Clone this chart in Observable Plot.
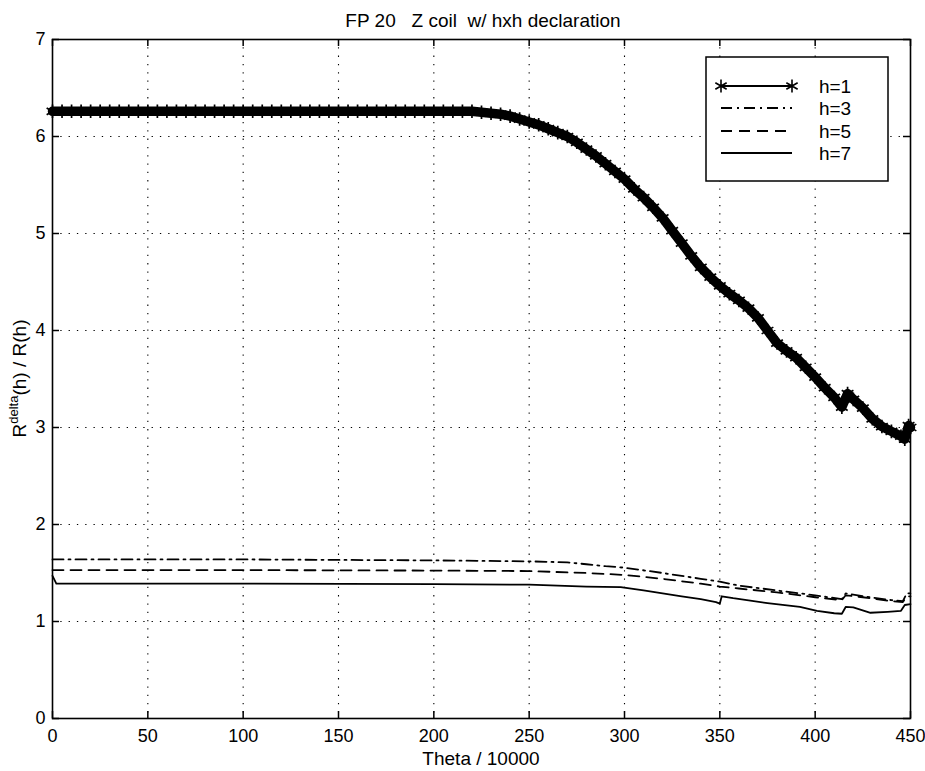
<!DOCTYPE html>
<html>
<head>
<meta charset="utf-8">
<script src="https://cdn.jsdelivr.net/npm/d3@7"></script>
<script src="https://cdn.jsdelivr.net/npm/@observablehq/plot@0.6"></script>
<style>
  html, body { margin: 0; padding: 0; background: #fff; }
  svg text { font-family: "Liberation Sans", Arial, Helvetica, sans-serif; }
</style>
</head>
<body>
<div id="chart"></div>
<script>
// ---- data ----
const titleText = "FP 20   Z coil  w/ hxh declaration";
const xLabel = "Theta / 10000";
const xTicks = [0, 50, 100, 150, 200, 250, 300, 350, 400, 450];
const yTicks = [0, 1, 2, 3, 4, 5, 6, 7];
const seriesNames = ["h=1", "h=3", "h=5", "h=7"];

const h1X = [0,5,10,15,20,25,30,35,40,45,50,55,60,65,70,75,80,85,90,95,100,105,110,115,120,125,130,135,140,145,150,155,160,165,170,175,180,185,190,195,200,205,210,215,220,225,230,235,240,245,250,255,260,265,270,275,280,285,290,295,300,305,310,315,320,325,330,335,340,345,350,355,360,365,370,375,380,385,390,395,400,405,410,414,417,420,425,430,435,440,445,447,449,450];
const h1Y = [6.26,6.26,6.26,6.26,6.26,6.26,6.26,6.26,6.26,6.26,6.26,6.26,6.26,6.26,6.26,6.26,6.26,6.26,6.26,6.26,6.26,6.26,6.26,6.26,6.26,6.26,6.26,6.26,6.26,6.26,6.26,6.26,6.26,6.26,6.26,6.26,6.26,6.26,6.26,6.26,6.26,6.26,6.26,6.26,6.26,6.25,6.24,6.23,6.21,6.18,6.15,6.12,6.08,6.04,6.00,5.94,5.87,5.80,5.72,5.64,5.56,5.46,5.37,5.27,5.16,5.03,4.90,4.77,4.65,4.55,4.46,4.38,4.31,4.23,4.13,4.00,3.87,3.79,3.72,3.62,3.52,3.41,3.31,3.21,3.35,3.29,3.20,3.09,3.01,2.96,2.91,2.88,3.02,3.00];

const h3X = [0,100,200,250,270,280,290,300,320,340,350,360,380,400,414,416,425,440,446,448,450];
const h3Y = [1.64,1.64,1.63,1.62,1.61,1.59,1.57,1.555,1.50,1.44,1.41,1.37,1.32,1.27,1.23,1.29,1.26,1.22,1.21,1.29,1.29];

const h5X = [0,100,200,250,280,300,320,340,350,360,380,400,414,416,425,440,446,448,450];
const h5Y = [1.53,1.53,1.525,1.52,1.50,1.48,1.44,1.39,1.36,1.34,1.30,1.25,1.22,1.27,1.25,1.21,1.20,1.26,1.26];

const h7X = [0,2,100,200,250,280,298,310,320,330,340,348,350,351,357,375,392,401,410,414,416,420,429,438,445,447,450];
const h7Y = [1.47,1.39,1.39,1.385,1.38,1.36,1.355,1.32,1.29,1.26,1.23,1.20,1.185,1.26,1.24,1.19,1.15,1.11,1.085,1.08,1.15,1.145,1.09,1.10,1.11,1.17,1.18];

// ---- build tables ----
const toRows = (xs, ys) => xs.map((x, i) => ({x, y: ys[i]}));
const h1 = toRows(h1X, h1Y);
const h3 = toRows(h3X, h3Y);
const h5 = toRows(h5X, h5Y);
const h7 = toRows(h7X, h7Y);

const W = 925, H = 771;
const mL = 52, mR = 15, mT = 39, mB = 53;
const plotH = H - mT - mB;
const plotW = W - mL - mR;
const tickLen = 7;
const FS = 18;

const plot = Plot.plot({
  width: W,
  height: H,
  marginLeft: mL,
  marginRight: mR,
  marginTop: mT,
  marginBottom: mB,
  style: {fontFamily: "Liberation Sans, Arial, sans-serif", fontSize: FS + "px", background: "#fff", color: "#000"},
  x: {domain: [0, 450], ticks: xTicks, tickSize: 0, tickPadding: 11, label: null, tickFormat: d => String(d)},
  y: {domain: [0, 7], ticks: yTicks, tickSize: 0, tickPadding: 7, label: null, tickFormat: d => String(d)},
  marks: [
    // dotted grid
    Plot.ruleX(xTicks.slice(1, -1), {x: d => d, stroke: "#000", strokeWidth: 1.1, strokeDasharray: "1.3,7"}),
    Plot.ruleY(yTicks.slice(1, -1), {y: d => d, stroke: "#000", strokeWidth: 1.1, strokeDasharray: "1.3,7"}),
    // series
    Plot.line(h7, {x: "x", y: "y", stroke: "#000", strokeWidth: 1.8}),
    Plot.line(h5, {x: "x", y: "y", stroke: "#000", strokeWidth: 1.8, strokeDasharray: "11,7"}),
    Plot.line(h3, {x: "x", y: "y", stroke: "#000", strokeWidth: 1.8, strokeDasharray: "11,5,2,5"}),
    Plot.line(h1, {x: "x", y: "y", stroke: "#000", strokeWidth: 9.5}),
    Plot.dot(h1, {x: "x", y: "y", symbol: "asterisk", r: 6.4, stroke: "#000", strokeWidth: 1.7}),
    // inward ticks on all four sides
    Plot.tickX(xTicks, {x: d => d, insetTop: plotH - tickLen, stroke: "#000", strokeWidth: 1.5}),
    Plot.tickX(xTicks, {x: d => d, insetBottom: plotH - tickLen, stroke: "#000", strokeWidth: 1.5}),
    Plot.tickY(yTicks, {y: d => d, insetRight: plotW - tickLen, stroke: "#000", strokeWidth: 1.5}),
    Plot.tickY(yTicks, {y: d => d, insetLeft: plotW - tickLen, stroke: "#000", strokeWidth: 1.5}),
    Plot.frame({stroke: "#000", strokeWidth: 1.6})
  ]
});

document.getElementById("chart").appendChild(plot);

// ---- extra text & legend ----
const svg = d3.select(plot);
const xs = plot.scale("x"), ys = plot.scale("y");
const cx = (xs.apply(0) + xs.apply(450)) / 2;

svg.append("text")
  .attr("x", cx + 2).attr("y", 27)
  .attr("text-anchor", "middle")
  .attr("font-size", 19)
  .attr("fill", "#000")
  .style("white-space", "pre")
  .text(titleText);

svg.append("text")
  .attr("x", cx).attr("y", 765)
  .attr("text-anchor", "middle")
  .attr("font-size", 19)
  .attr("fill", "#000")
  .text(xLabel);

const yl = svg.append("text")
  .attr("transform", `translate(26,${(ys.apply(0) + ys.apply(7)) / 2}) rotate(-90)`)
  .attr("text-anchor", "middle")
  .attr("font-size", 19)
  .attr("fill", "#000");
yl.append("tspan").text("R");
yl.append("tspan").attr("font-size", 13).attr("dy", -8).text("delta");
yl.append("tspan").attr("dy", 8).text("(h) / R(h)");

// legend box
const lg = svg.append("g");
lg.append("rect").attr("x", 706).attr("y", 57).attr("width", 182).attr("height", 124)
  .attr("fill", "#fff").attr("stroke", "#000").attr("stroke-width", 1.5);
const rowsY = [86, 108, 131, 153];
const dashes = [null, "11,5,2,5", "11,7", null];
seriesNames.forEach((name, i) => {
  const y = rowsY[i];
  lg.append("line").attr("x1", 721).attr("x2", 792).attr("y1", y).attr("y2", y)
    .attr("stroke", "#000").attr("stroke-width", 1.8)
    .attr("stroke-dasharray", dashes[i]);
  if (i === 0) {
    const sym = d3.symbol(d3.symbolAsterisk, 120)();
    [721, 792].forEach(px => lg.append("path").attr("d", sym)
      .attr("transform", `translate(${px},${y})`)
      .attr("fill", "none").attr("stroke", "#000").attr("stroke-width", 1.6));
  }
  lg.append("text").attr("x", 835).attr("y", y).attr("dy", "0.36em")
    .attr("font-size", 19).attr("fill", "#000").text(name);
});
</script>
</body>
</html>
